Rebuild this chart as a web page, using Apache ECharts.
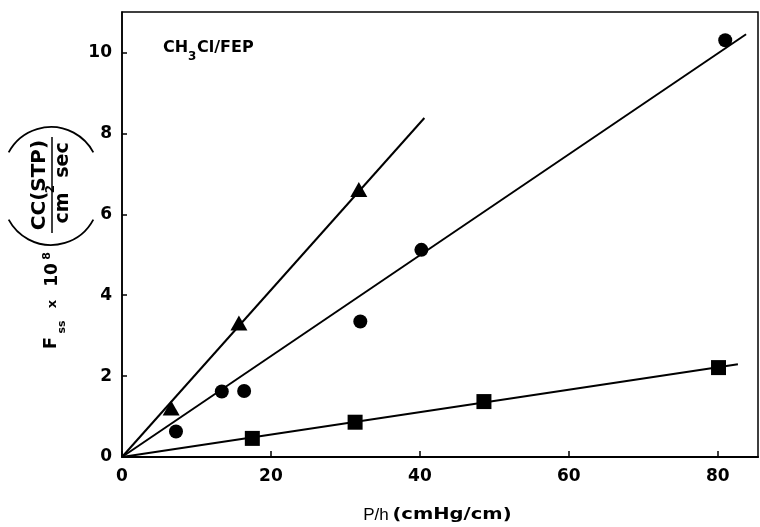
<!DOCTYPE html>
<html>
<head>
<meta charset="utf-8">
<script src="https://cdn.jsdelivr.net/npm/echarts@6/dist/echarts.min.js"></script>
<style>
  html, body { margin: 0; padding: 0; background: #fff; }
  #chart { width: 760px; height: 527px; }
</style>
</head>
<body>
<div id="chart"></div>
<script>
// Measured steady-state flux points, one set per symbol
const triangleData = [[6.6, 1.21], [15.7, 3.31], [31.8, 6.61]];
const circleData = [[7.25, 0.63], [13.4, 1.62], [16.4, 1.63], [32.0, 3.35], [40.2, 5.12], [81.0, 10.30]];
const squareData = [[17.5, 0.46], [31.3, 0.86], [48.6, 1.37], [80.1, 2.21]];

// Straight-line fits through the origin
const triangleFit = [[0, 0], [40.6, 8.38]];
const circleFit = [[0, 0], [83.8, 10.45]];
const squareFit = [[0, 0], [82.7, 2.29]];

// Axis tick labels
const xTickLabels = [0, 20, 40, 60, 80];
const yTickLabels = [0, 2, 4, 6, 8, 10];

const FONT = '"DejaVu Sans", sans-serif';
const INK = '#000';

function txt(x, y, text, font, align, extra) {
  return Object.assign({
    type: 'text', x: x, y: y, silent: true,
    style: {
      text: text, font: font, fill: INK,
      align: align || 'center', verticalAlign: 'middle',
      textAlign: align || 'center', textVerticalAlign: 'middle'
    }
  }, extra || {});
}

const chart = echarts.init(document.getElementById('chart'), null, { renderer: 'canvas' });

const lineSeries = (data) => ({
  type: 'line', data: data, symbol: 'none', silent: true, z: 2,
  lineStyle: { color: INK, width: 2 }
});
const markSeries = (data, symbol, size) => ({
  type: 'scatter', data: data, symbol: symbol, symbolSize: size, silent: true, z: 3,
  itemStyle: { color: INK, borderWidth: 0, opacity: 1 }
});

chart.setOption({
  animation: false,
  backgroundColor: '#fff',
  grid: {
    left: 122, right: 2, top: 12, bottom: 70,
    show: true, borderColor: INK, borderWidth: 1.5, backgroundColor: 'transparent'
  },
  xAxis: {
    type: 'value', min: 0, max: 85.4, interval: 20,
    axisLine: { show: true, lineStyle: { color: INK, width: 2 } },
    axisTick: { show: true, inside: true, length: 6, lineStyle: { color: INK, width: 1.5 } },
    splitLine: { show: false },
    axisLabel: {
      show: true, margin: 11, color: INK, fontFamily: FONT, fontWeight: 'bold', fontSize: 17,
      showMaxLabel: false,
      formatter: (v) => (xTickLabels.indexOf(v) >= 0 ? String(v) : '')
    }
  },
  yAxis: {
    type: 'value', min: 0, max: 11, interval: 2,
    axisLine: { show: true, lineStyle: { color: INK, width: 1.5 } },
    axisTick: { show: true, inside: true, length: 5, lineStyle: { color: INK, width: 1.5 } },
    splitLine: { show: false },
    axisLabel: {
      show: true, margin: 10, color: INK, fontFamily: FONT, fontWeight: 'bold', fontSize: 17,
      showMaxLabel: false,
      formatter: (v) => (yTickLabels.indexOf(v) >= 0 ? String(v) : '')
    }
  },
  series: [
    lineSeries(triangleFit),
    lineSeries(circleFit),
    lineSeries(squareFit),
    markSeries(triangleData, 'triangle', [17, 15]),
    markSeries(circleData, 'circle', 14),
    markSeries(squareData, 'rect', 15)
  ],
  graphic: [
    // System label inside the plot
    txt(163, 48, 'CH', 'bold 16px ' + FONT, 'left'),
    txt(188, 57, '3', 'bold 12px ' + FONT, 'left'),
    txt(197, 48, 'Cl/FEP', 'bold 16px ' + FONT, 'left'),

    // x-axis title
    txt(376, 515, 'P/h', '17px "Liberation Sans", sans-serif', 'center'),
    txt(452, 515, '(cmHg/cm)', 'bold 16px ' + FONT, 'center', { scaleX: 1.22, originX: 0, originY: 0 }),

    // y-axis title, laid out along the reading direction and turned upright
    {
      type: 'group', x: 0, y: 360, rotation: Math.PI / 2, silent: true,
      children: [
        txt(17, 51, 'F', 'bold 18px ' + FONT),
        txt(33, 62, 'ss', 'bold 11px ' + FONT),
        txt(56, 53, 'x', 'bold 13px ' + FONT),
        txt(85, 53, '10', 'bold 17px ' + FONT),
        txt(104, 47, '8', 'bold 11px ' + FONT),
        {
          type: 'arc', silent: true,
          shape: { cx: 163, cy: 51, r: 48, startAngle: Math.PI - 1.08, endAngle: Math.PI + 1.08, clockwise: true },
          style: { stroke: INK, fill: null, lineWidth: 1.8 }
        },
        txt(175, 40, 'CC(STP)', 'bold 20px ' + FONT),
        {
          type: 'line', silent: true,
          shape: { x1: 127, y1: 52, x2: 223, y2: 52 },
          style: { stroke: INK, lineWidth: 1.5 }
        },
        txt(152, 63, 'cm', 'bold 19px ' + FONT),
        txt(171, 51, '2', 'bold 12px ' + FONT),
        txt(200, 63, 'sec', 'bold 19px ' + FONT),
        {
          type: 'arc', silent: true,
          shape: { cx: 185, cy: 51, r: 48, startAngle: -1.08, endAngle: 1.08, clockwise: true },
          style: { stroke: INK, fill: null, lineWidth: 1.8 }
        }
      ]
    }
  ]
});
</script>
</body>
</html>
